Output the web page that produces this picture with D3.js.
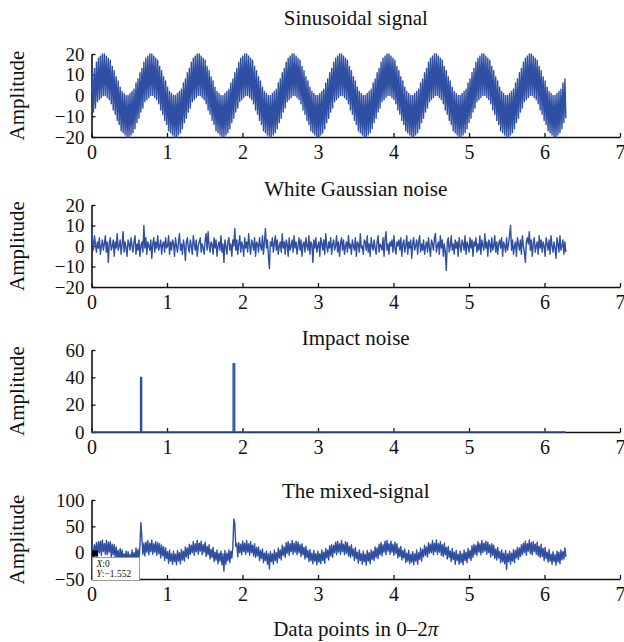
<!DOCTYPE html>
<html>
<head>
<meta charset="utf-8">
<script src="https://cdn.jsdelivr.net/npm/d3@7"></script>
<style>
  body { margin: 0; background: #fff; }
  text { font-family: "Liberation Serif", "DejaVu Serif", serif; fill: #111; }
</style>
</head>
<body>
<svg id="chart" width="624" height="642"></svg>
<script>
// values, samples evenly spread on 0..2pi
var sinusoid = [0,
  11,-8,13,-6,16,-3,18,-2,19,-1,20,0,20,0,19,-1,18,-2,17,-4,14,-7,12,-9,9,-12,7,-14,4,-17,2,-18,1,-19,0,-20,0,-20,1,-19,2,-18,3,-16,6,-13,8,-11,
  11,-8,13,-6,16,-3,18,-2,19,-1,20,0,20,0,19,-1,18,-2,17,-4,14,-7,12,-9,9,-12,7,-14,4,-17,2,-18,1,-19,0,-20,0,-20,1,-19,2,-18,3,-16,6,-13,8,-11,
  11,-8,13,-6,16,-3,18,-2,19,-1,20,0,20,0,19,-1,18,-2,17,-4,14,-7,12,-9,9,-12,7,-14,4,-17,2,-18,1,-19,0,-20,0,-20,1,-19,2,-18,3,-16,6,-13,8,-11,
  11,-8,13,-6,16,-3,18,-2,19,-1,20,0,20,0,19,-1,18,-2,17,-4,14,-7,12,-9,9,-12,7,-14,4,-17,2,-18,1,-19,0,-20,0,-20,1,-19,2,-18,3,-16,6,-13,8,-11,
  11,-8,13,-6,16,-3,18,-2,19,-1,20,0,20,0,19,-1,18,-2,17,-4,14,-7,12,-9,9,-12,7,-14,4,-17,2,-18,1,-19,0,-20,0,-20,1,-19,2,-18,3,-16,6,-13,8,-11,
  11,-8,13,-6,16,-3,18,-2,19,-1,20,0,20,0,19,-1,18,-2,17,-4,14,-7,12,-9,9,-12,7,-14,4,-17,2,-18,1,-19,0,-20,0,-20,1,-19,2,-18,3,-16,6,-13,8,-11,
  11,-8,13,-6,16,-3,18,-2,19,-1,20,0,20,0,19,-1,18,-2,17,-4,14,-7,12,-9,9,-12,7,-14,4,-17,2,-18,1,-19,0,-20,0,-20,1,-19,2,-18,3,-16,6,-13,8,-11,
  11,-8,13,-6,16,-3,18,-2,19,-1,20,0,20,0,19,-1,18,-2,17,-4,14,-7,12,-9,9,-12,7,-14,4,-17,2,-18,1,-19,0,-20,0,-20,1,-19,2,-18,3,-16,6,-13,8,-11,
  11,-8,13,-6,16,-3,18,-2,19,-1,20,0,20,0,19,-1,18,-2,17,-4,14,-7,12,-9,9,-12,7,-14,4,-17,2,-18,1,-19,0,-20,0,-20,1,-19,2,-18,3,-16,6,-13,8,-11,
  11,-8,13,-6,16,-3,18,-2,19,-1,20,0,20,0,19,-1,18,-2,17,-4,14,-7,12,-9,9,-12,7,-14,4,-17,2,-18,1,-19,0,-20,0,-20,1,-19,2,-18,3,-16,6,-13,8,-11];

var gaussNoise = [
  8,3,-2,5,1,-3,2,-1,4,-4,0,3,-2,1,5,-3,2,-8,1,4,-2,0,3,-5,
  2,-1,6,-2,0,3,-4,1,7,-3,2,-1,-5,3,1,-2,4,0,-3,2,5,-4,1,-2,
  3,-5,0,2,-3,10,-1,4,-4,2,0,-2,3,-6,1,4,-3,2,-1,5,-2,0,3,-4,
  1,2,-3,4,-1,0,5,-4,2,-2,3,1,-5,4,0,-3,2,6,-2,1,-4,3,0,-7,
  2,4,-1,-3,3,0,-4,5,1,-2,3,-5,0,2,4,-3,1,-1,-4,3,6,-2,7,0,
  -3,2,1,-4,4,-1,3,-5,0,2,-2,5,-3,1,-8,3,0,-4,2,4,-2,1,-5,3,
  0,8.5,-2,3,-4,1,5,-3,2,0,-5,4,-1,2,-3,6,0,-4,3,1,-2,4,-5,2,
  1,-3,4,0,-2,5,-4,2,8.5,-1,3,-5,-11,2,0,4,-3,1,5,-2,3,-4,0,2,
  -3,6,-1,2,-4,3,1,-5,4,-2,0,3,-3,5,-1,2,-4,0,4,-2,3,-5,1,2,
  -3,4,0,-2,5,-4,2,1,-8,3,-1,4,-3,0,2,-5,4,1,-2,3,-4,6,0,-3,
  2,-1,4,-4,1,3,-2,0,5,-3,2,-5,1,4,-2,3,-4,0,2,-3,5,-1,1,-4,
  3,0,-2,4,-5,2,1,-3,6,-1,0,-4,3,2,-2,5,-3,1,-5,4,0,-2,3,-1,
  -4,2,5,-3,1,0,-2,4,-5,3,7,-2,1,-4,2,0,3,-3,5,-1,-4,2,0,3,
  -2,4,-5,1,3,-3,0,5,-4,2,-1,3,-6,1,4,-2,0,3,-4,2,5,-3,1,-2,
  3,-4,0,2,-3,4,-1,-5,3,1,-2,4,6,-3,0,2,-4,5,-1,3,-5,1,-3,-12,
  2,4,-3,0,5,-2,1,-4,3,-1,2,-5,4,0,-3,3,1,-2,5,-4,2,0,-3,4,
  -1,3,-5,2,0,4,-3,1,-2,5,-4,3,0,-2,6,-1,2,-5,3,1,-3,4,-2,0,
  5,-3,2,-4,1,3,-1,4,-5,2,0,-3,4,-2,1,5,10,-2,3,-4,0,2,-5,4,
  1,-2,3,-4,5,0,-3,-8,2,4,1,7,-2,3,-5,1,4,-3,0,2,-4,5,-1,3,
  -3,2,0,-5,4,1,-2,3,-4,5,0,-3,2,-1,-6,4,1,-3,5,-2,0,3,-4,2,
  -3];

// impact noise: two short pulses on a zero baseline
var impactX = [0, 0.65, 0.65, 0.664, 0.664, 1.876, 1.876, 1.896, 1.896, 6.283];
var impactY = [0, 0, 40, 40, 0, 0, 50, 50, 0, 0];

var mixed = [-1.552,
  13,-10,15,-4,19,-6,21,0,22,-5,24,2,17,-3,23,-4,20,1,21,-8,16,-4,15,-12,11,-9,4,-17,8,-15,5,-21,-2,-16,3,-23,2,-18,-3,-22,5,-15,0,-19,9,-11,6,-14,
  14,57,28,-3,18,-6,20,1,23,-4,18,2,24,-3,17,1,21,-5,19,-2,17,-10,14,-6,11,-15,9,-11,2,-20,5,-16,-2,-22,3,-17,-3,-23,4,-16,0,-21,6,-14,3,-16,11,-8,
  9,-11,16,-3,14,0,21,-5,17,2,23,-3,18,3,22,-4,15,1,20,-7,12,-4,15,-12,6,-9,10,-17,1,-14,5,-21,-1,-16,3,-23,-2,-35,4,-22,-1,-15,5,-19,3,-10,10,64,
  55,12,17,-8,19,0,16,-4,22,2,18,-3,23,1,17,-5,21,0,14,-6,17,-9,10,-6,11,-15,4,-11,7,-19,-1,-15,3,-22,-2,-31,2,-17,-2,-22,5,-15,0,-19,9,-10,5,-14,
  14,-5,11,-9,19,-1,21,-5,17,2,23,-3,18,1,22,-4,20,0,15,-7,17,-4,10,-12,12,-9,4,-17,6,-15,-1,-21,4,-16,-2,-23,3,-18,-2,-21,5,-15,1,-20,8,-10,5,-14,
  13,-6,15,-9,14,0,20,-4,22,1,17,-3,23,2,16,-4,21,-1,19,-6,12,-9,15,-6,7,-15,10,-11,1,-20,5,-15,-2,-22,3,-17,-3,-24,4,-16,0,-21,5,-13,3,-15,11,-9,
  9,-11,16,-4,19,-6,15,1,22,-4,23,3,17,-3,22,1,16,-5,20,-2,17,-10,9,-7,12,-14,4,-10,7,-19,-1,-16,4,-21,-3,-18,2,-23,-2,-16,5,-22,0,-13,9,-16,6,-8,
  14,-5,11,-8,19,-1,16,0,23,-4,18,2,24,-3,17,1,21,-5,15,-7,18,-4,10,-12,12,-9,3,-17,8,-13,1,-22,4,-15,-3,-22,3,-19,-2,-23,5,-15,1,-19,8,-11,4,-15,
  13,-9,16,-3,14,-5,21,1,17,-4,23,0,18,3,22,-3,20,0,15,-8,17,-5,14,-11,7,-14,10,-10,2,-19,5,-17,-1,-21,4,-32,-2,-17,3,-22,-1,-16,6,-19,4,-10,10,-13,
  9,-7,15,-4,18,0,22,-5,17,3,24,-2,19,-4,21,2,16,-3,20,-6,12,-9,16,-7,8,-15,10,-11,1,-18,6,-16,-3,-22,2,-17,-4,-24,3,-18,1,-21,5,-14,2,-12,9,-8];

var xTicks = [0, 1, 2, 3, 4, 5, 6, 7];
var sinTicks = [-20, -10, 0, 10, 20];
var noiseTicks = [-20, -10, 0, 10, 20];
var impactTicks = [0, 20, 40, 60];
var mixedTicks = [-50, 0, 50, 100];

var titles = ["Sinusoidal signal", "White Gaussian noise", "Impact noise", "The mixed-signal"];
var tipX = 0, tipY = -1.552;

function samples(vals) {
  // pair each sample with its position on 0..2pi
  return vals.map(function(v, i) { return [i * 2 * Math.PI / (vals.length - 1), v]; });
}

var blue = "#2f4fa3";
var svg = d3.select("#chart");

var x = d3.scaleLinear().domain([0, 7]).range([91.5, 620]);
var fmt = d3.format("d");

var panels = [
  { title: titles[0], top: 54, bottom: 137, domain: [-20, 20], ticks: sinTicks, titleY: 25, pts: samples(sinusoid) },
  { title: titles[1], top: 205, bottom: 287, domain: [-20, 20], ticks: noiseTicks, titleY: 196, pts: samples(gaussNoise) },
  { title: titles[2], top: 350, bottom: 432, domain: [0, 60], ticks: impactTicks, titleY: 345,
    pts: impactY.map(function(v, i) { return [impactX[i], v]; }) },
  { title: titles[3], top: 500, bottom: 579, domain: [-50, 100], ticks: mixedTicks, titleY: 498, pts: samples(mixed) }
];

panels.forEach(function(p, k) {
  var y = d3.scaleLinear().domain(p.domain).range([p.bottom, p.top]);
  var g = svg.append("g");

  var yAxis = d3.axisLeft(y).tickValues(p.ticks).tickFormat(fmt)
    .tickSizeInner(-4).tickSizeOuter(0).tickPadding(7);
  var gy = g.append("g").attr("transform", "translate(" + x(0) + ",0)").call(yAxis);

  var xAxis = d3.axisBottom(x).tickValues(xTicks).tickFormat(fmt)
    .tickSizeInner(-4).tickSizeOuter(0).tickPadding(8);
  var gx = g.append("g").attr("transform", "translate(0," + p.bottom + ")").call(xAxis);

  [gx, gy].forEach(function(a) {
    a.select(".domain").attr("stroke", "#111").attr("stroke-width", 1.6);
    a.selectAll(".tick line").attr("stroke", "#111").attr("stroke-width", 1.3);
    a.selectAll(".tick text").attr("fill", "#111");
  });
  gx.selectAll(".tick text").style("font-size", "20px");
  gy.selectAll(".tick text").style("font-size", "19px");

  var line = d3.line().x(function(d) { return x(d[0]); }).y(function(d) { return y(d[1]); });
  g.append("path").datum(p.pts)
    .attr("d", line)
    .attr("fill", "none")
    .attr("stroke", blue)
    .attr("stroke-width", 1.4)
    .attr("stroke-linejoin", "round");

  g.append("text")
    .attr("x", (x(0) + x(7)) / 2)
    .attr("y", p.titleY)
    .attr("text-anchor", "middle")
    .style("font-size", "21px")
    .text(p.title);

  g.append("text")
    .attr("transform", "translate(24," + ((p.top + p.bottom) / 2) + ") rotate(-90)")
    .attr("text-anchor", "middle")
    .style("font-size", "21px")
    .text("Amplitude");

  if (k === 3) {
    // datatip at the first sample of the mixed signal
    var mx = x(tipX), my = y(tipY);
    var tip = g.append("g");
    tip.append("rect")
      .attr("x", mx + 1).attr("y", my + 4)
      .attr("width", 47).attr("height", 23)
      .attr("fill", "#fff").attr("stroke", "#9a9a9a").attr("stroke-width", 1);
    tip.append("rect")
      .attr("x", mx + 0.5).attr("y", my - 3)
      .attr("width", 6).attr("height", 6)
      .attr("fill", "#000");
    var t1 = tip.append("text").attr("x", mx + 5).attr("y", my + 14).style("font-size", "9.5px");
    t1.append("tspan").style("font-style", "italic").text("X");
    t1.append("tspan").text(":" + tipX);
    var t2 = tip.append("text").attr("x", mx + 5).attr("y", my + 24).style("font-size", "9.5px");
    t2.append("tspan").style("font-style", "italic").text("Y");
    t2.append("tspan").text(":" + d3.format(".3f")(tipY).replace("-", "\u2212"));
  }
});

var xl = svg.append("text")
  .attr("x", (x(0) + x(7)) / 2)
  .attr("y", 636)
  .attr("text-anchor", "middle")
  .style("font-size", "21px");
xl.append("tspan").text("Data points in 0\u20132");
xl.append("tspan").style("font-style", "italic").text("\u03c0");
</script>
</body>
</html>
